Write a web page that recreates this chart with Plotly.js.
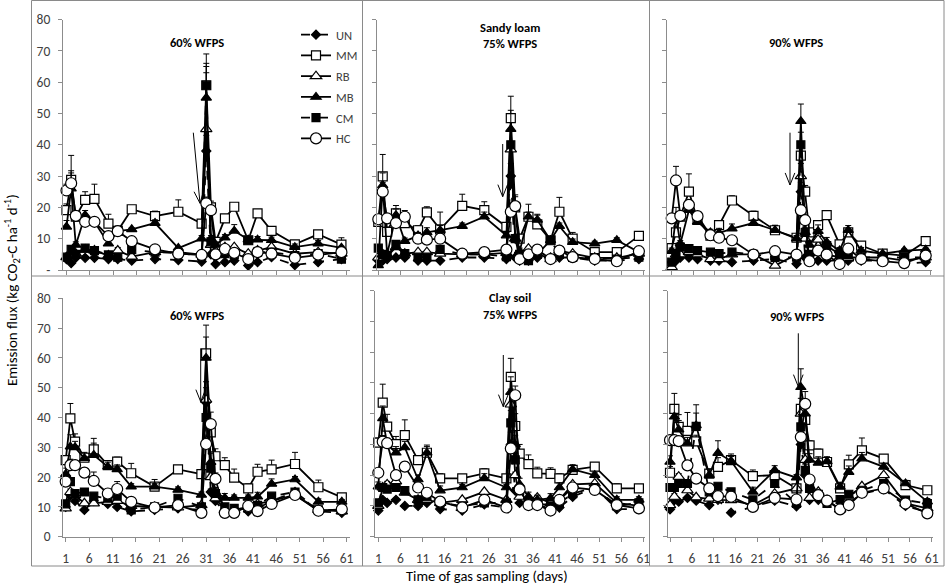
<!DOCTYPE html>
<html><head><meta charset="utf-8">
<script src="https://cdn.plot.ly/plotly-3.0.1.min.js"></script>
<style>html,body{margin:0;padding:0;background:#fff;} #chart{width:945px;height:585px;}</style>
</head><body><div id="chart"></div>
<script>
// ---------- DATA ----------
const days = [1,2,3,5,7,10,12,15,20,25,30,31,32,33,35,37,40,42,45,50,55,60];
const seriesNames = ['UN','MM','RB','MB','CM','HC'];
const panelTitles = ['60% WFPS','Sandy loam<br>75% WFPS','90% WFPS','60% WFPS','Clay soil<br>75% WFPS','90% WFPS'];
const xTickVals = [1,6,11,16,21,26,31,36,41,46,51,56,61];
const yTickVals = [0,10,20,30,40,50,60,70,80];
const yTickTextTop = ['-','10','20','30','40','50','60','70','80'];
const yTickTextBottom = ['0','10','20','30','40','50','60','70','80'];

// Panel 1: Sandy loam, 60% WFPS
const p1_UN = [3.5,2.2,4,3.9,3.9,3.5,3.5,3,3.5,3.2,2.7,38,5,1.9,2.5,3,1.4,2.5,4.1,1.6,2.5,3.5];
const p1_MM = [19.1,28.8,17,22.4,22.7,14.8,12.5,19.4,17.2,18.6,14.8,59,20,9,16.5,20.2,9.5,18.1,12.5,8.2,11.4,8.1];
const p1_RB = [4.1,5,5.2,6.5,6.2,4.6,6.2,4.3,5.7,5.7,4.9,45,8,6,7.3,7.3,5.2,6.2,7.3,5.2,5.7,5.2];
const p1_MB = [13.8,26,8,17.5,15.4,8.4,12.4,13,15,7,10,55,10,8,10.3,12.5,9.7,9.7,9.5,7.3,8.4,7.1];
const p1_CM = [4.1,6.6,5,7,6.2,4.8,4.1,6.5,5.7,5.4,4.6,59,9,5,5.2,5,9.5,5.7,5.7,4.6,5.2,3.5];
const p1_HC = [25.4,27.7,17.3,15.4,15.4,10.8,12.4,9.2,6.6,5.2,4.8,21.3,19.1,5,6.7,5.5,3.5,5.7,5.2,3.9,4.9,5.7];
const p1_UN_e = [0.5,0.5,0.5,0.5,0.5,0.5,0.5,0.5,0.5,0.5,0.5,5,0.5,0.5,0.5,0.5,0.5,0.5,0.5,0.5,0.5,0.5];
const p1_MM_e = [2,7.8,1.5,2.6,4.7,3,1.5,0.8,1.6,3.8,1,10,2,1,1,1,1,1,0.8,0.8,1.2,2.2];
const p1_RB_e = [0.5,1,0.5,0.5,0.5,0.5,1,0.5,0.5,0.5,0.5,20,1,0.5,0.5,0.5,0.5,0.5,0.5,0.5,0.5,0.5];
const p1_MB_e = [2,5,1,1.5,1,1,1,0.5,1,0.5,1,8,1,1,1,2,1,1,1,1,1,0.5];
const p1_CM_e = [0.5,1,0.5,0.5,0.5,0.5,0.5,0.5,0.5,0.5,0.5,7,1,0.5,0.5,0.5,0.5,0.5,0.5,0.5,0.5,0.5];
const p1_HC_e = [2,4,1,1,1,1,1,1,0.5,0.5,0.5,2,1.5,0.5,0.5,0.5,0.5,0.5,0.5,0.5,0.5,0.5];

// Panel 2: Sandy loam, 75% WFPS
const p2_UN = [3,3,3.5,4,4,3,3,3,4,4,3.5,30,4,3,3,4,4,4,4,3,3,3.5];
const p2_MM = [15.4,29.9,12.2,18.1,15,12.7,18.4,13,20.5,19.1,13.8,48.5,20,10,17,14.6,9.5,18.6,10,5.7,5.7,10.9];
const p2_RB = [4,5,4.3,7.3,5.2,5.7,5.7,5.2,5,5,5.5,38.5,10,4,6.8,5.2,3.5,6.2,5.2,3.9,3.9,5.2];
const p2_MB = [1.5,27,5,17.5,9.2,11,12,12.7,14,17,11,45,10,6,17,16,9.5,14,8.9,8.4,9.5,5.7];
const p2_CM = [7,5,4.6,8.2,5.2,4.1,4.1,6.6,5,5,4.3,40,10,5,3,5,9.5,5,4,4,3.5,4.1];
const p2_HC = [16.2,25,16.5,15,17,10,9.7,10,5.2,5.7,6.5,18.6,20.4,3.5,5,6.5,3.5,6.2,4.1,3.5,2.8,6];
const p2_UN_e = [0.5,0.5,0.5,0.5,0.5,0.5,0.5,0.5,0.5,0.5,0.5,4,0.5,0.5,0.5,0.5,0.5,0.5,0.5,0.5,0.5,0.5];
const p2_MM_e = [1.5,7,1.5,2.5,4,1.5,1.8,5.5,3.7,2.7,1,7,4,1,4,3.2,1,4.6,2,0.8,0.8,0.5];
const p2_RB_e = [0.5,1,0.5,1,0.5,0.5,0.5,0.5,0.5,0.5,0.5,6,1,0.5,0.5,0.5,0.5,0.5,0.5,0.5,0.5,0.5];
const p2_MB_e = [1,4,1,2,1,1,1.5,1.5,1,1.5,1,6,1,1,1.5,1.5,1,1,1,0.8,0.8,0.8];
const p2_CM_e = [0.5,1,0.5,1,0.5,0.5,0.5,0.5,0.5,0.5,0.5,5,1,0.5,0.5,0.5,0.5,0.5,0.5,0.5,0.5,0.5];
const p2_HC_e = [1,3,1,1,1,1,1,1,0.5,0.5,0.5,2,3,0.5,0.5,0.5,0.5,0.5,0.5,0.5,0.5,0.5];

// Panel 3: Sandy loam, 90% WFPS
const p3_UN = [2.5,3,4,4,3.5,3,3,2.5,3,3.5,2,25,4,3,3,3,3,3,3,3,2,2.5];
const p3_MM = [7,12,17,25,16,11,14.3,22.2,17.3,12.7,10.3,36.5,25,12,14.3,17.5,8.2,12,7.8,5.2,4.6,9.2];
const p3_RB = [0.9,5,5,5.7,5,3.5,3.5,5,5,1.4,5,30,10,4,9.7,5,4,4,4,4,3,4];
const p3_MB = [6,17,8.4,19.1,15.4,12,11.8,13.2,15,12.7,10,47.5,12,8,12.4,8.9,6.2,12.7,6.2,5.2,6.2,6.5];
const p3_CM = [2.5,5.2,7.3,6.8,6.2,5.7,5.2,5.7,5,4,4.1,40,12,5,6,7.8,5,5,4,4,4,4];
const p3_HC = [16.5,28.6,17.3,20.8,17.2,11.1,10.3,9.5,4.9,6,4.9,19.1,15.9,2.8,6.2,4.9,1.9,6.8,3.5,2.8,2.2,4.6];
const p3_UN_e = [0.5,0.5,0.5,0.5,0.5,0.5,0.5,0.5,0.5,0.5,0.5,3,0.5,0.5,0.5,0.5,0.5,0.5,0.5,0.5,0.5,0.5];
const p3_MM_e = [1,2,1.5,5.7,2,1,1,1.5,1.5,1.6,1,3,2,1,1,1.5,1,1,1,0.5,0.5,0.5];
const p3_RB_e = [0.5,0.5,0.5,0.5,0.5,0.5,0.5,0.5,0.5,0.5,0.5,4,1,0.5,1,0.5,0.5,0.5,0.5,0.5,0.5,0.5];
const p3_MB_e = [1,3,1,1.5,1,1,1.5,1.5,1,1.5,1,5.5,1,1,2,1.5,1,1.5,1,0.5,0.5,0.5];
const p3_CM_e = [0.5,0.5,0.5,0.5,0.5,0.5,0.5,0.5,0.5,0.5,0.5,4,1,0.5,0.5,0.5,0.5,0.5,0.5,0.5,0.5,0.5];
const p3_HC_e = [1,4.5,1,1.5,1,1,1,1,0.5,0.5,0.5,1.5,1,0.5,0.5,0.5,0.5,0.5,0.5,0.5,0.5,0.5];

// Panel 4: Clay soil, 60% WFPS
const p4_UN = [10,14,12,9,12,11,10,8.5,9,9.5,9,45,15,12,8,8.5,8.5,9.5,12,15,8.5,8];
const p4_MM = [25.7,39.7,31.9,26.5,29.3,24,25.2,21.3,16.8,22.6,21,61.5,35,27,24,19.8,16.2,21.8,22.6,24.4,16.6,13.2];
const p4_RB = [9.5,15,14,11.2,11.2,11.7,12,10.3,10,9.8,10.6,46,20,12.9,9,9,10,11,12,14,9,8.5];
const p4_MB = [21,30.2,30,26.3,27.4,23.5,22.6,16.8,16.8,15.7,14,60,25,15,13,13,13,13.4,17.7,19.2,11.7,11.7];
const p4_CM = [11,18.5,14.5,15,13.6,12.9,13.6,9,10,12.9,10,40,23,14.5,10,9.5,9.5,10.5,13.6,15,9,9];
const p4_HC = [18.5,24,24,21.5,18.7,14.5,16,11.7,9.8,10.6,8,31.1,37.8,19.4,8,8,10.3,8.6,11,14,8.7,9.2];
const p4_UN_e = [0.5,1,0.5,0.5,0.5,0.5,0.5,0.5,0.5,0.5,0.5,5,1,0.5,0.5,0.5,0.5,0.5,0.5,0.5,0.5,0.5];
const p4_MM_e = [1.5,5,2.6,1.5,3.7,1.5,1.5,3.3,2.4,1.2,1,9.5,4,2.5,2.5,2.9,1.5,2.5,3.1,3.9,2.4,0.8];
const p4_RB_e = [0.5,1,1,0.5,0.5,0.5,0.5,0.5,0.5,0.5,0.5,6,1,0.5,0.5,0.5,0.5,0.5,0.5,0.5,0.5,0.5];
const p4_MB_e = [2,4,2,2,4,1.5,1.5,1,1,1,1,7,3,1.5,1.5,1,1,1.5,1.7,1,1,0.8];
const p4_CM_e = [0.5,1,0.5,0.5,0.5,0.5,0.5,0.5,0.5,0.5,0.5,5,1,0.5,0.5,0.5,0.5,0.5,0.5,0.5,0.5,0.5];
const p4_HC_e = [1.5,2,1.5,1.5,3,1.5,2.5,1.5,1,1,0.5,3,4,2,0.5,0.5,1,0.5,1,1,0.5,0.5];

// Panel 5: Clay soil, 75% WFPS
const p5_UN = [8.5,12,11,12,10,10,11,9,8.5,10.5,9.5,30,15,11,11,10.5,9,9.5,13,16,9,9];
const p5_MM = [30.6,43.6,35.8,30.1,33,24.9,27.3,19,19,20.6,19,52,36,27,23.6,20.6,20.4,19,21.7,22.8,15.7,15.7];
const p5_RB = [10,16,17,18,14.3,12,12,11,12,14.6,12,43,20,13,12,12.7,11,12,17,17.3,11,10];
const p5_MB = [16.3,38.5,30,27.3,29,18.6,27.3,15,16,19,16,47,30,17,13,12,12.5,16,21.9,20,12,12];
const p5_CM = [11,16,15.5,16,15,12,13,11,10,11,11,37,25,15,11,11,10,11,14,16,10,11];
const p5_HC = [20.8,30.9,30.4,20,22.8,16,14.3,11.4,9.5,12,9.5,28.7,46,15.4,10.3,10.3,8.5,12,16,15.2,10.3,9.2];
const p5_UN_e = [0.5,0.5,0.5,0.5,0.5,0.5,0.5,0.5,0.5,0.5,0.5,4,1,0.5,0.5,0.5,0.5,0.5,0.5,0.5,0.5,0.5];
const p5_MM_e = [1.5,6,4,2.5,5,1.5,2,1.5,1,1.5,1,6,4,3,3,2,2,1.5,1.5,1,1.5,1.2];
const p5_RB_e = [0.5,1,1,1,0.5,0.5,0.5,0.5,0.5,0.5,0.5,5,1,0.5,0.5,0.5,0.5,0.5,0.5,0.5,0.5,0.5];
const p5_MB_e = [1.5,4,2,2,2,1.5,2.5,1.5,1,1.5,1,5,3,2,1.5,1.5,1.5,1.5,1.5,1,1,1];
const p5_CM_e = [0.5,1,0.5,0.5,0.5,0.5,0.5,0.5,0.5,0.5,0.5,4,2,0.5,0.5,0.5,0.5,0.5,0.5,0.5,0.5,0.5];
const p5_HC_e = [1,2,1.5,1.5,1.5,1,1,1,0.5,0.5,0.5,2,3,1,0.5,0.5,0.5,0.5,0.5,0.5,0.5,0.5];

// Panel 6: Clay soil, 90% WFPS
const p6_UN = [8.9,11.9,11.4,12.6,11.7,10.3,12,7.8,9.7,11.7,9.9,30,20,12,12,11,8.9,11,14,15.5,10,8];
const p6_MM = [20.8,41.6,35.7,34.4,31,20.5,22.7,24.9,19.7,20,15.7,41.6,38,29.7,27,24.3,15.7,23.5,28.1,25.4,16.8,15.1];
const p6_RB = [10.3,13,19.5,15.1,12.8,12.4,12,11.9,10.3,14,15.7,40,25,12.6,14.6,11.9,8.9,13,16.4,20,10.8,9.2];
const p6_MB = [24.3,39,34.8,30.3,36.2,20,27.2,24.6,14.6,21.6,19.2,48.6,40,25,24,24.5,16.2,21,25.4,22.7,17.3,11.4];
const p6_CM = [16,16,17.3,17.3,35.9,14.6,16.4,14.6,12,17.3,10.8,35.7,21.6,15.7,13.8,10.8,12.1,13.8,15.1,17.3,11.9,10.8];
const p6_HC = [31.4,31.4,31.1,23.2,18.9,15.7,13.2,13,9.7,12.6,12.1,32.4,43.2,18.6,13.5,11.7,8.9,10.3,14.3,15.7,10.8,7.6];
const p6_UN_e = [0.5,0.5,0.5,0.5,0.5,0.5,0.5,0.5,0.5,0.5,0.5,4,1,0.5,0.5,0.5,0.5,0.5,0.5,0.5,0.5,0.5];
const p6_MM_e = [2,5,4,6,2,1.5,3,2,2,1.5,1,7,4,1.5,1.5,1.5,1.5,3,4,1,1.5,1];
const p6_RB_e = [0.5,1,1,1,0.5,0.5,0.5,0.5,0.5,0.5,0.5,5,2,0.5,0.5,0.5,0.5,0.5,0.5,0.5,0.5,0.5];
const p6_MB_e = [2,4,3,2,4,2,4,1.5,1.5,1.5,1,6,4,2,2,1.5,1.5,2,2,1,1,1];
const p6_CM_e = [0.5,1,0.5,0.5,7,0.5,0.5,0.5,0.5,0.5,0.5,4,2,0.5,0.5,0.5,0.5,0.5,0.5,0.5,0.5,0.5];
const p6_HC_e = [1.5,1.5,1.5,1.5,1,1,1,1,0.5,0.5,0.5,2,4,1,0.5,0.5,0.5,0.5,0.5,0.5,0.5,0.5];

// ---------- LAYOUT HELPERS ----------
const W = 945, H = 585;
const px = x => x / W;
const py = y => 1 - y / H;
const FONT = 'Carlito, Calibri, "Liberation Sans Narrow", "DejaVu Sans Condensed", "Open Sans", sans-serif';
const AX = '#8c8c8c';

const panelData = [
  {UN:[p1_UN,p1_UN_e],MM:[p1_MM,p1_MM_e],RB:[p1_RB,p1_RB_e],MB:[p1_MB,p1_MB_e],CM:[p1_CM,p1_CM_e],HC:[p1_HC,p1_HC_e]},
  {UN:[p2_UN,p2_UN_e],MM:[p2_MM,p2_MM_e],RB:[p2_RB,p2_RB_e],MB:[p2_MB,p2_MB_e],CM:[p2_CM,p2_CM_e],HC:[p2_HC,p2_HC_e]},
  {UN:[p3_UN,p3_UN_e],MM:[p3_MM,p3_MM_e],RB:[p3_RB,p3_RB_e],MB:[p3_MB,p3_MB_e],CM:[p3_CM,p3_CM_e],HC:[p3_HC,p3_HC_e]},
  {UN:[p4_UN,p4_UN_e],MM:[p4_MM,p4_MM_e],RB:[p4_RB,p4_RB_e],MB:[p4_MB,p4_MB_e],CM:[p4_CM,p4_CM_e],HC:[p4_HC,p4_HC_e]},
  {UN:[p5_UN,p5_UN_e],MM:[p5_MM,p5_MM_e],RB:[p5_RB,p5_RB_e],MB:[p5_MB,p5_MB_e],CM:[p5_CM,p5_CM_e],HC:[p5_HC,p5_HC_e]},
  {UN:[p6_UN,p6_UN_e],MM:[p6_MM,p6_MM_e],RB:[p6_RB,p6_RB_e],MB:[p6_MB,p6_MB_e],CM:[p6_CM,p6_CM_e],HC:[p6_HC,p6_HC_e]}
];

// pixel boxes of each plot area (left, right, top, bottom) and x ranges
const boxes = [
  {l:63,  r:350, t:19.5, b:270,   xr:[0.25,61.84], tx:197, ty:[43]},
  {l:376.7,r:645, t:19.5, b:270,  xr:[0.64,61.38], tx:510, ty:[27,44]},
  {l:666.7,r:932, t:19.5, b:270,  xr:[-0.16,61.46], tx:796, ty:[43]},
  {l:63.3,r:350, t:298.3, b:536.7, xr:[0.49,61.75], tx:197, ty:[315]},
  {l:375, r:645, t:290.7, b:536.7, xr:[0.25,61.38], tx:510, ty:[297,314]},
  {l:668.3,r:933, t:290.7, b:536.7, xr:[0.61,61.3], tx:797, ty:[316]}
];

const styles = {
  UN:{dash:'dash', symbol:'diamond', size:7, fill:'#000'},
  MM:{dash:'solid', symbol:'square', size:9, fill:'#fff'},
  RB:{dash:'solid', symbol:'triangle-up', size:10, fill:'#fff'},
  MB:{dash:'solid', symbol:'triangle-up', size:9, fill:'#000'},
  CM:{dash:'dash', symbol:'square', size:8, fill:'#000'},
  HC:{dash:'solid', symbol:'circle', size:11, fill:'#fff'}
};

const traces = [];
const layout = {
  width: W, height: H, autosize:false,
  margin:{l:0,r:0,t:0,b:0},
  paper_bgcolor:'#fff', plot_bgcolor:'rgba(0,0,0,0)',
  font:{family:FONT, size:12, color:'#404040'},
  showlegend:true,
  legend:{x:px(296), y:py(20), xanchor:'left', yanchor:'top', bgcolor:'rgba(0,0,0,0)',
          font:{family:FONT, size:12.5, color:'#404040'}, itemwidth:30, tracegroupgap:1.5},
  shapes:[], annotations:[]
};

boxes.forEach((b,i) => {
  const n = i === 0 ? '' : String(i+1);
  const bottom = i >= 3;
  layout['xaxis'+n] = {
    domain:[px(b.l), px(b.r)], range:b.xr, anchor:'y'+n,
    tickmode:'array', tickvals:xTickVals, ticktext:xTickVals.map(String),
    ticks:'outside', ticklen:4, tickcolor:AX, showline:true, linecolor:AX, linewidth:1,
    showgrid:false, zeroline:false, showticklabels:bottom, ticklabelstandoff:5,
    tickfont:{family:FONT, size:13.5, color:'#404040'}, fixedrange:true
  };
  layout['yaxis'+n] = {
    domain:[py(b.b), py(b.t)], range:[0,80], anchor:'x'+n,
    tickmode:'array', tickvals:yTickVals, ticktext: bottom ? yTickTextBottom : yTickTextTop,
    ticks:'outside', ticklen:4, tickcolor:AX, showline:true, linecolor:AX, linewidth:1,
    showgrid:false, zeroline:false, showticklabels:(i===0 || i===3), ticklabelstandoff:5,
    tickfont:{family:FONT, size:13.5, color:'#404040'}, fixedrange:true
  };
  seriesNames.forEach(s => {
    const st = styles[s];
    const [vals, errs] = panelData[i][s];
    traces.push({
      type:'scatter', mode:'lines+markers', name:s,
      x:days, y:vals, xaxis:'x'+n, yaxis:'y'+n,
      showlegend: i === 0, legendgroup:s, cliponaxis:false,
      line:{color:'#000', width:1.8, dash:st.dash},
      marker:{symbol:st.symbol, size:st.size, color:st.fill, line:{color:'#000', width:1.2}},
      error_y:{type:'data', symmetric:false, array:errs, arrayminus:errs.map(()=>0),
               color:'#000', thickness:1, width:3}
    });
  });
  // panel title
  const lines = panelTitles[i].split('<br>');
  lines.forEach((t,k) => {
    layout.annotations.push({xref:'paper', yref:'paper', x:px(b.tx), y:py(b.ty[k]),
      text:'<b>'+t+'</b>', showarrow:false, xanchor:'center', yanchor:'middle',
      font:{family:FONT, size:12.5, color:'#000'}});
  });
});

// arrows (tail -> tip, in pixels)
const arrows = [
  [193.3,132.7,200,203.3],[502.7,144,502.7,196.7],[790,132.7,790,185],
  [200.7,348.3,200.7,401.7],[503.3,355,503.3,406.7],[798.3,333.3,798.3,386.7]
];
arrows.forEach(a => {
  const [x1,y1,x2,y2] = a;
  const ang = Math.atan2(y2-y1, x2-x1);
  const L = 13, sp = 0.38;
  const h1 = [x2 - L*Math.cos(ang-sp), y2 - L*Math.sin(ang-sp)];
  const h2 = [x2 - L*Math.cos(ang+sp), y2 - L*Math.sin(ang+sp)];
  const path = `M ${px(x1)} ${py(y1)} L ${px(x2)} ${py(y2)} M ${px(h1[0])} ${py(h1[1])} L ${px(x2)} ${py(y2)} L ${px(h2[0])} ${py(h2[1])}`;
  layout.shapes.push({type:'path', xref:'paper', yref:'paper', path, line:{color:'#000', width:1}});
});

// frame lines
const FR = '#8a8a8a';
const frame = [
  [31.5,0.5,944,0.5],[31.5,566,944,566],[31.5,0.5,31.5,566],[944,0.5,944,566],
  [362.5,0.5,362.5,566],[649.5,0.5,649.5,566],[31.5,276,944,276]
];
frame.forEach(f => layout.shapes.push({type:'line', xref:'paper', yref:'paper',
  x0:px(f[0]), y0:py(f[1]), x1:px(f[2]), y1:py(f[3]), line:{color:FR, width:1}}));

// axis titles
layout.annotations.push({xref:'paper', yref:'paper', x:px(487), y:py(575.5),
  text:'Time of gas sampling (days)', showarrow:false, xanchor:'center', yanchor:'middle',
  font:{family:FONT, size:14.5, color:'#000'}});
layout.annotations.push({xref:'paper', yref:'paper', x:px(12), y:py(290),
  text:'Emission flux (kg CO<sub>2</sub>-C ha<sup>-1</sup> d<sup>-1</sup>)', showarrow:false,
  textangle:-90, xanchor:'center', yanchor:'middle',
  font:{family:FONT, size:15, color:'#000'}});

Plotly.newPlot('chart', traces, layout, {displayModeBar:false, staticPlot:true});
</script>
</body></html>
